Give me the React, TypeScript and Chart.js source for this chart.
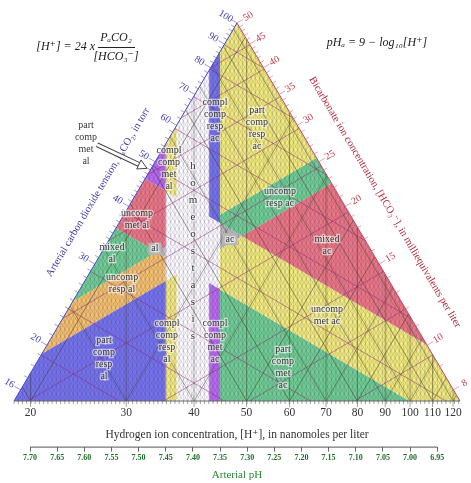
import React, { useEffect, useRef } from "react";
import { Chart, registerables } from "chart.js";

Chart.register(...registerables);

// ---------------- data ----------------
// triangle corners: bottom-left, bottom-right, apex
const cornerPCO2 = [16, 41.2, 100];
const cornerHCO3 = [20.6, 8, 50];
// pH limits of the central "homeostasis" column
const columnPH = [7.45, 7.43, 7.37, 7.35];
const pco2Cuts = [37, 47];
const hco3Cuts = [23, 26];

const hTicks = [20, 30, 40, 50, 60, 70, 80, 90, 100, 110, 120];
const pHTicks = [7.7, 7.65, 7.6, 7.55, 7.5, 7.45, 7.4, 7.35, 7.3, 7.25, 7.2, 7.15, 7.1, 7.05, 7.0, 6.95];
const pco2TickLabels = [16, 20, 30, 40, 50, 60, 70, 80, 90, 100];
const hco3TickLabels = [8, 10, 15, 20, 25, 30, 35, 40, 45, 50];
const pco2Isolines = [20, 25, 30, 40, 50, 60, 70, 80, 90];
const hco3Isolines = [10, 12.5, 15, 20, 25, 30, 35, 40, 45];

const regionNames = [
  "part comp resp al", "uncomp resp al", "mixed al", "al", "uncomp met al", "part comp met al",
  "compl comp resp al", "compl comp met al", "compl comp resp ac", "compl comp met ac",
  "part comp resp ac", "uncomp resp ac", "ac", "mixed ac", "uncomp met ac", "part comp met ac",
];
const BLUE = "#7474ec", ORANGE = "#f5c36c", YELLOW = "#f3ee7c", GREEN = "#6fd092",
  RED = "#ec7883", PURPLE = "#b86cee", GREY = "#bdbdbd";
const regionColors = [
  BLUE, ORANGE, GREEN, GREY, RED, PURPLE,
  YELLOW, YELLOW, BLUE, PURPLE,
  YELLOW, GREEN, GREY, RED, YELLOW, GREEN,
];

const hCuts = columnPH.map((ph) => 10 ** (9 - ph));
const [H1, H2, H3, H4] = hCuts;
const [P1, P2] = pco2Cuts;
const [B1, B2] = hco3Cuts;
const N = null;
// [H min, H max, PCO2 min, PCO2 max, HCO3 min, HCO3 max]
const regionBounds: (number | null)[][] = [
  [N, H1, N, P1, N, B1],
  [N, H1, N, P1, B1, B2],
  [N, H1, N, P1, B2, N],
  [N, H1, P1, N, N, B2],
  [N, H1, P1, P2, B2, N],
  [N, H1, P2, N, B2, N],
  [H1, H2, N, N, N, B1],
  [H1, H2, P2, N, N, N],
  [H3, H4, P2, N, N, N],
  [H3, H4, N, P1, N, N],
  [H4, N, P2, N, B2, N],
  [H4, N, P2, N, B1, B2],
  [H4, N, N, P2, B1, N],
  [H4, N, P2, N, N, B1],
  [H4, N, P1, P2, N, B1],
  [H4, N, N, P1, N, N],
];

// ---------------- layout (annotation placement, fractions of plot area) ----------------
const regionLabels = [
  { lines: ["part", "comp", "resp", "al"], fx: 0.2018, fy: 0.8883 },
  { lines: ["uncomp", "resp al"], fx: 0.2422, fy: 0.6883 },
  { lines: ["mixed", "al"], fx: 0.2197, fy: 0.6104 },
  { lines: ["al"], fx: 0.3161, fy: 0.5974, box: true },
  { lines: ["uncomp", "met al"], fx: 0.2758, fy: 0.5195 },
  { lines: ["compl", "comp", "met", "al"], fx: 0.3475, fy: 0.3844 },
  { lines: ["compl", "comp", "resp", "al"], fx: 0.343, fy: 0.8416 },
  { lines: ["compl", "comp", "resp", "ac"], fx: 0.4507, fy: 0.2571 },
  { lines: ["compl", "comp", "met", "ac"], fx: 0.4507, fy: 0.8416 },
  { lines: ["part", "comp", "resp", "ac"], fx: 0.5448, fy: 0.2779 },
  { lines: ["uncomp", "resp ac"], fx: 0.5964, fy: 0.4623 },
  { lines: ["ac"], fx: 0.4843, fy: 0.5714, box: true },
  { lines: ["mixed", "ac"], fx: 0.7018, fy: 0.587 },
  { lines: ["uncomp", "met ac"], fx: 0.7018, fy: 0.774 },
  { lines: ["part", "comp", "met", "ac"], fx: 0.6031, fy: 0.9117 },
  { lines: ["part", "comp", "met", "al"], fx: 0.1614, fy: 0.3195 },
];
const homeo = { word: "homeostasis", fx: 0.4013, fy: 0.6026, lh: 17 };
const arrowLayout = { fx0: 0.1861, fy0: 0.3221, fx1: 0.2982, fy1: 0.3844 };

const FONT = '"Liberation Serif", "DejaVu Serif", serif';
const LOG24 = Math.log10(24);
const EDGE_SPAN = 0.82; // decades shown along each slanted edge
const MESH_STEP = 0.0078;

type LP = [number, number];
const triLog: LP[] = cornerPCO2.map((p, i) => {
  const b = cornerHCO3[i];
  return [Math.log10((24 * p) / b), Math.log10(p * b)];
});

function clipHalf(poly: LP[], a: number, b: number, c: number): LP[] {
  const out: LP[] = [];
  for (let i = 0; i < poly.length; i++) {
    const P = poly[i];
    const Q = poly[(i + 1) % poly.length];
    const fp = a * P[0] + b * P[1] - c;
    const fq = a * Q[0] + b * Q[1] - c;
    if (fp >= 0) out.push(P);
    if (fp >= 0 !== fq >= 0) {
      const t = fp / (fp - fq);
      out.push([P[0] + t * (Q[0] - P[0]), P[1] + t * (Q[1] - P[1])]);
    }
  }
  return out;
}

function regionPolygon(bounds: (number | null)[]) {
  let poly = triLog.slice();
  const [hMin, hMax, pMin, pMax, bMin, bMax] = bounds;
  if (hMin != null) poly = clipHalf(poly, 1, 0, Math.log10(hMin));
  if (hMax != null) poly = clipHalf(poly, -1, 0, -Math.log10(hMax));
  if (pMin != null) poly = clipHalf(poly, 1, 1, 2 * Math.log10(pMin) + LOG24);
  if (pMax != null) poly = clipHalf(poly, -1, -1, -(2 * Math.log10(pMax) + LOG24));
  if (bMin != null) poly = clipHalf(poly, -1, 1, 2 * Math.log10(bMin) - LOG24);
  if (bMax != null) poly = clipHalf(poly, 1, -1, -(2 * Math.log10(bMax) - LOG24));
  if (poly.length < 3) return [];
  const pts = poly.map(([lx, ly]) => ({ x: 10 ** lx, y: 10 ** ly }));
  pts.push(pts[0]);
  return pts;
}

function textBlock(ctx: CanvasRenderingContext2D, lines: string[], cx: number, cy: number, lh: number, box?: boolean) {
  const y0 = cy - ((lines.length - 1) * lh) / 2;
  if (box) {
    const w = Math.max(...lines.map((s) => ctx.measureText(s).width)) + 6;
    ctx.fillStyle = "#b5b5b5";
    ctx.fillRect(cx - w / 2, y0 - lh / 2, w, lines.length * lh);
  }
  lines.forEach((s, i) => {
    const y = y0 + i * lh;
    ctx.strokeStyle = "rgba(255,255,255,0.55)";
    ctx.lineWidth = 2.5;
    ctx.strokeText(s, cx, y);
    ctx.fillStyle = "#383838";
    ctx.fillText(s, cx, y);
  });
}

const nomogramPlugin = {
  id: "nomogram",
  afterDatasetsDraw(chart: any) {
    const { ctx } = chart;
    const xs = chart.scales.x;
    const ys = chart.scales.y;
    const px = (l: LP) => [xs.getPixelForValue(10 ** l[0]), ys.getPixelForValue(10 ** l[1])];
    const [bl, br, ap] = triLog;
    const pix = triLog.map(px);
    ctx.save();
    ctx.beginPath();
    pix.forEach((p, i) => (i ? ctx.lineTo(p[0], p[1]) : ctx.moveTo(p[0], p[1])));
    ctx.closePath();
    ctx.clip();
    const seg = (a: LP, b: LP) => {
      const p = px(a);
      const q = px(b);
      ctx.moveTo(p[0], p[1]);
      ctx.lineTo(q[0], q[1]);
    };
    const dL = ap[0] - bl[0];
    const dR = ap[0] - br[0];
    // fine mesh
    ctx.beginPath();
    for (let lx = bl[0]; lx <= br[0] + 1e-9; lx += MESH_STEP) {
      seg([lx, bl[1]], [lx, ap[1]]);
      seg([lx, bl[1]], [lx + dL, ap[1]]);
      seg([lx, bl[1]], [lx + dR, ap[1]]);
    }
    ctx.strokeStyle = "rgba(70,50,110,0.24)";
    ctx.lineWidth = 0.7;
    ctx.stroke();
    // major mesh
    ctx.beginPath();
    hTicks.forEach((h) => {
      const lx = Math.log10(h);
      seg([lx, bl[1]], [lx, ap[1]]);
      seg([lx, bl[1]], [lx + dL, ap[1]]);
      seg([lx, bl[1]], [lx + dR, ap[1]]);
    });
    ctx.strokeStyle = "rgba(60,60,40,0.5)";
    ctx.lineWidth = 0.9;
    ctx.stroke();
    // PCO2 / HCO3 isolines
    const lo = bl[0] - 0.5;
    const hi = br[0] + 0.5;
    ctx.beginPath();
    pco2Isolines.forEach((p) => {
      const c = 2 * Math.log10(p) + LOG24;
      seg([lo, c - lo], [hi, c - hi]);
    });
    hco3Isolines.forEach((b) => {
      const c = 2 * Math.log10(b) - LOG24;
      seg([lo, c + lo], [hi, c + hi]);
    });
    ctx.strokeStyle = "rgba(140,40,120,0.5)";
    ctx.lineWidth = 1;
    ctx.stroke();
    ctx.restore();

    // outline
    const edge = (a: number[], b: number[], col: string) => {
      ctx.beginPath();
      ctx.moveTo(a[0], a[1]);
      ctx.lineTo(b[0], b[1]);
      ctx.strokeStyle = col;
      ctx.lineWidth = 1;
      ctx.stroke();
    };
    edge(pix[0], pix[2], "#4b4bc4");
    edge(pix[1], pix[2], "#c24a60");
    edge(pix[0], pix[1], "#666");
  },
  afterDraw(chart: any) {
    const { ctx, chartArea } = chart;
    const xs = chart.scales.x;
    const ys = chart.scales.y;
    const px = (l: LP) => [xs.getPixelForValue(10 ** l[0]), ys.getPixelForValue(10 ** l[1])];
    const [bl, br] = triLog;
    const pix = triLog.map(px);
    const base = pix[0][1];
    ctx.save();
    // base ruler ticks
    ctx.beginPath();
    for (let lx = bl[0]; lx <= br[0] + 1e-9; lx += MESH_STEP) {
      const x = xs.getPixelForValue(10 ** lx);
      ctx.moveTo(x, base);
      ctx.lineTo(x, base + 3);
    }
    hTicks.forEach((h) => {
      const x = xs.getPixelForValue(h);
      ctx.moveTo(x, base);
      ctx.lineTo(x, base + 6);
    });
    ctx.strokeStyle = "rgba(70,70,70,0.7)";
    ctx.lineWidth = 0.7;
    ctx.stroke();

    // pH axis line
    const ph = chart.scales.ph;
    const x0 = ph.getPixelForValue(10 ** (9 - pHTicks[0]));
    const x1 = ph.getPixelForValue(10 ** (9 - pHTicks[pHTicks.length - 1]));
    ctx.beginPath();
    ctx.moveTo(x0, ph.top + 0.5);
    ctx.lineTo(x1, ph.top + 0.5);
    ctx.strokeStyle = "#555";
    ctx.lineWidth = 1;
    ctx.stroke();

    // slanted edges: ticks, labels, titles
    const drawEdge = (corner: number, topVal: number, minorVals: number[], labels: number[], color: string, tickCol: string, sign: number, title: string, tT: number, tD: number, titleCol: string) => {
      const a = pix[corner];
      const b = pix[2];
      const ex = b[0] - a[0];
      const ey = b[1] - a[1];
      const len = Math.hypot(ex, ey);
      const nx = (sign * ey) / len;
      const ny = (-sign * ex) / len;
      const at = (t: number) => [a[0] + ex * t, a[1] + ey * t];
      const tOf = (v: number) => 1 - Math.log10(topVal / v) / EDGE_SPAN;
      ctx.beginPath();
      minorVals.forEach((v) => {
        const p = at(tOf(v));
        const L = labels.includes(v) ? 7 : 4;
        ctx.moveTo(p[0], p[1]);
        ctx.lineTo(p[0] + nx * L, p[1] + ny * L);
      });
      ctx.strokeStyle = tickCol;
      ctx.lineWidth = 0.8;
      ctx.stroke();
      ctx.font = `10px ${FONT}`;
      ctx.fillStyle = color;
      ctx.textAlign = "center";
      ctx.textBaseline = "middle";
      labels.forEach((v) => {
        const p = at(tOf(v));
        ctx.save();
        ctx.translate(p[0] + nx * 13, p[1] + ny * 13);
        ctx.rotate(Math.atan2(ny, nx) + (sign > 0 ? Math.PI : 0));
        ctx.fillText(String(v), 0, 0);
        ctx.restore();
      });
      const c = at(tT);
      ctx.save();
      ctx.translate(c[0] + nx * tD, c[1] + ny * tD);
      ctx.rotate(sign > 0 ? Math.atan2(ey, ex) : Math.atan2(-ey, -ex));
      ctx.font = `10.5px ${FONT}`;
      ctx.fillStyle = titleCol;
      ctx.fillText(title, 0, 0);
      ctx.restore();
    };
    const pMinor: number[] = [];
    for (let v = 16; v <= 100; v += v < 50 ? 1 : 2) pMinor.push(v);
    const bMinor: number[] = [];
    for (let v = 8; v <= 50; v += 1) bMinor.push(v);
    drawEdge(0, cornerPCO2[2], pMinor, pco2TickLabels, "#4343b4", "rgba(70,70,200,0.7)", 1,
      "Arterial carbon dioxide tension, PₐCO₂, in torr", 0.507, 33.6, "#3a3aa8");
    drawEdge(1, cornerHCO3[2], bMinor, hco3TickLabels, "#c0404e", "rgba(205,90,110,0.7)", -1,
      "Bicarbonate ion concentration, [HCO₃⁻], in milliequivalents per liter", 0.477, 36.4, "#b02a3c");

    // region labels
    const W = chartArea.right - chartArea.left;
    const H = chartArea.bottom - chartArea.top;
    ctx.textAlign = "center";
    ctx.textBaseline = "middle";
    regionLabels.forEach((l) => {
      ctx.font = `10px ${FONT}`;
      textBlock(ctx, l.lines, chartArea.left + l.fx * W, chartArea.top + l.fy * H, 12, l.box);
    });
    ctx.font = `11px ${FONT}`;
    textBlock(ctx, homeo.word.split(""), chartArea.left + homeo.fx * W, chartArea.top + homeo.fy * H, homeo.lh);

    // hollow arrow
    const ax0 = chartArea.left + arrowLayout.fx0 * W;
    const ay0 = chartArea.top + arrowLayout.fy0 * H;
    const ax1 = chartArea.left + arrowLayout.fx1 * W;
    const ay1 = chartArea.top + arrowLayout.fy1 * H;
    const ang = Math.atan2(ay1 - ay0, ax1 - ax0);
    const hx = ax1 - Math.cos(ang) * 9;
    const hy = ay1 - Math.sin(ang) * 9;
    ctx.beginPath();
    ctx.moveTo(ax0, ay0);
    ctx.lineTo(hx, hy);
    ctx.strokeStyle = "#444";
    ctx.lineWidth = 5;
    ctx.stroke();
    ctx.strokeStyle = "#fff";
    ctx.lineWidth = 3;
    ctx.stroke();
    ctx.beginPath();
    ctx.moveTo(ax1, ay1);
    ctx.lineTo(hx + Math.sin(ang) * 5, hy - Math.cos(ang) * 5);
    ctx.lineTo(hx - Math.sin(ang) * 5, hy + Math.cos(ang) * 5);
    ctx.closePath();
    ctx.fillStyle = "#fff";
    ctx.fill();
    ctx.strokeStyle = "#444";
    ctx.lineWidth = 1;
    ctx.stroke();

    // formulas
    ctx.fillStyle = "#222";
    ctx.font = `italic 12px ${FONT}`;
    ctx.textBaseline = "middle";
    ctx.textAlign = "right";
    ctx.fillText("[H⁺] = 24 x", 95, 47);
    ctx.textAlign = "center";
    ctx.fillText("PₐCO₂", 116, 38);
    ctx.fillText("[HCO₃⁻]", 116, 57);
    ctx.beginPath();
    ctx.moveTo(98, 47.5);
    ctx.lineTo(135, 47.5);
    ctx.strokeStyle = "#222";
    ctx.lineWidth = 1;
    ctx.stroke();
    ctx.fillText("pHₐ = 9 − log₁₀[H⁺]", 377, 43);
    ctx.restore();
  },
};

export default function App() {
  const ref = useRef<HTMLCanvasElement | null>(null);
  useEffect(() => {
    const tri = cornerPCO2.map((p, i) => ({ x: (24 * p) / cornerHCO3[i], y: p * cornerHCO3[i] }));
    const xMin = tri[0].x;
    const xMax = tri[1].x;
    const yMin = Math.min(tri[0].y, tri[1].y);
    const yMax = tri[2].y;
    const regionSets = regionBounds.map((b, i) => ({
      label: regionNames[i],
      data: regionPolygon(b),
      showLine: true,
      fill: "shape",
      backgroundColor: regionColors[i],
      borderColor: "rgba(0,0,0,0)",
      borderWidth: 0,
      pointRadius: 0,
      tension: 0,
    }));
    const chart = new Chart(ref.current as HTMLCanvasElement, {
      type: "scatter",
      data: {
        datasets: [
          ...regionSets,
          {
            label: "nomogram",
            data: [...tri, tri[0]],
            showLine: true,
            fill: "shape",
            backgroundColor: "#ffffff",
            borderColor: "rgba(0,0,0,0)",
            borderWidth: 0,
            pointRadius: 0,
            tension: 0,
          },
        ],
      } as any,
      options: {
        animation: false,
        responsive: true,
        maintainAspectRatio: false,
        events: [],
        layout: { padding: { left: 14, right: 11, top: 23, bottom: 1.6 } },
        plugins: { legend: { display: false }, tooltip: { enabled: false } },
        scales: {
          x: {
            type: "logarithmic",
            position: "bottom",
            min: xMin,
            max: xMax,
            afterBuildTicks: (s: any) => {
              s.ticks = hTicks.map((v) => ({ value: v }));
            },
            ticks: {
              autoSkip: false,
              maxRotation: 0,
              minRotation: 0,
              padding: 5,
              color: "#333",
              font: { family: FONT, size: 11.5 },
              callback: (v: any) => String(v),
            },
            grid: { display: false, drawTicks: false },
            border: { display: false },
            title: {
              display: true,
              text: "Hydrogen ion concentration, [H⁺], in nanomoles per liter",
              color: "#333",
              font: { family: FONT, size: 11.5 },
              padding: { top: 3, bottom: 5 },
            },
          },
          ph: {
            type: "logarithmic",
            position: "bottom",
            min: xMin,
            max: xMax,
            afterBuildTicks: (s: any) => {
              s.ticks = pHTicks.map((p) => ({ value: 10 ** (9 - p) }));
            },
            ticks: {
              autoSkip: false,
              maxRotation: 0,
              minRotation: 0,
              padding: 2,
              color: "#1e6e2a",
              font: { family: FONT, size: 8, weight: "bold" },
              callback: (v: any) => (9 - Math.log10(v)).toFixed(2),
            },
            grid: { drawOnChartArea: false, drawTicks: true, tickLength: 5, color: "#666" },
            border: { display: false },
            title: {
              display: true,
              text: "Arterial pH",
              color: "#2a8a3a",
              font: { family: FONT, size: 11 },
              padding: { top: 3, bottom: 0 },
            },
          },
          y: { type: "logarithmic", display: false, min: yMin, max: yMax },
        },
      } as any,
      plugins: [nomogramPlugin],
    });
    return () => chart.destroy();
  }, []);
  return (
    <div style={{ position: "fixed", left: 0, top: 0, width: 471, height: 483, background: "#fff" }}>
      <canvas ref={ref} />
    </div>
  );
}
